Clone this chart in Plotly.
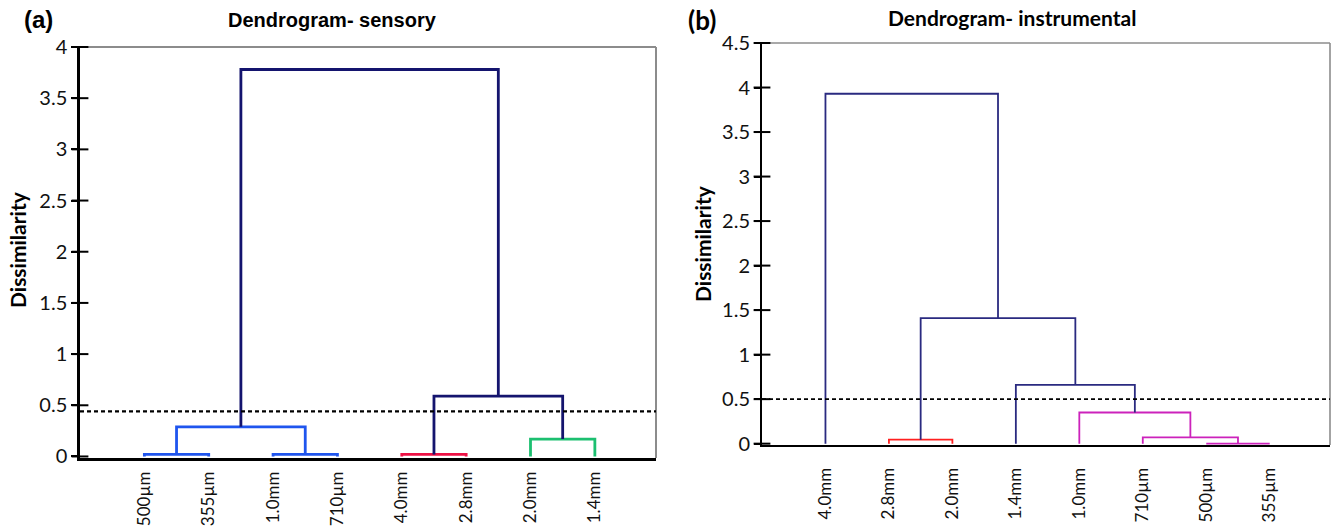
import plotly.graph_objects as go

W, H = 1334, 526

# ---------------- data ----------------
leaves_a = ["500µm", "355µm", "1.0mm", "710µm", "4.0mm", "2.8mm", "2.0mm", "1.4mm"]
merge_left_a = [0, 2, 4, 6, 8, 10, 12]
merge_right_a = [1, 3, 5, 7, 9, 11, 13]
merge_height_a = [0.02, 0.02, 0.02, 0.17, 0.29, 0.59, 3.78]
merge_color_a = ["#1f55ee", "#1f55ee", "#ee1144", "#1cbf70", "#1f55ee", "#14146e", "#14146e"]
cut_a = 0.44
yticks_a = [0, 0.5, 1, 1.5, 2, 2.5, 3, 3.5, 4]

leaves_b = ["4.0mm", "2.8mm", "2.0mm", "1.4mm", "1.0mm", "710µm", "500µm", "355µm"]
merge_left_b = [6, 1, 5, 4, 3, 9, 0]
merge_right_b = [7, 2, 8, 10, 11, 12, 13]
merge_height_b = [0.0, 0.045, 0.07, 0.35, 0.66, 1.41, 3.93]
merge_color_b = ["#cc22bb", "#ff2020", "#cc22bb", "#cc22bb", "#2a2a80", "#2a2a80", "#2a2a80"]
cut_b = 0.5
yticks_b = [0, 0.5, 1, 1.5, 2, 2.5, 3, 3.5, 4, 4.5]

XR = [-1, 7.95]

fig = go.Figure()


def add_dendro(leaves, lefts, rights, heights, colors, xa, ya, lw):
    n = len(leaves)
    pos = {i: float(i) for i in range(n)}
    hgt = {i: 0.0 for i in range(n)}
    for k, (l, r, h, c) in enumerate(zip(lefts, rights, heights, colors)):
        fig.add_trace(go.Scatter(
            x=[pos[l], pos[l], pos[r], pos[r]],
            y=[hgt[l], h, h, hgt[r]],
            mode="lines", line=dict(color=c, width=lw),
            xaxis=xa, yaxis=ya, showlegend=False, hoverinfo="skip"))
        pos[n + k] = (pos[l] + pos[r]) / 2
        hgt[n + k] = h


def add_cut(cut, xa, ya, lw):
    fig.add_trace(go.Scatter(x=XR, y=[cut, cut], mode="lines",
                             line=dict(color="black", width=lw, dash="4px,3px"),
                             xaxis=xa, yaxis=ya, showlegend=False, hoverinfo="skip"))


def add_crossticks(ticks, xa, ya):
    fig.add_trace(go.Scatter(x=[XR[0]] * len(ticks), y=ticks, mode="markers",
                             marker=dict(symbol="line-ew", size=12,
                                         line=dict(color="black", width=2)),
                             cliponaxis=False,
                             xaxis=xa, yaxis=ya, showlegend=False, hoverinfo="skip"))


add_dendro(leaves_a, merge_left_a, merge_right_a, merge_height_a, merge_color_a, "x", "y", 2.8)
add_cut(cut_a, "x", "y", 2.2)
add_crossticks(yticks_a, "x", "y")

add_dendro(leaves_b, merge_left_b, merge_right_b, merge_height_b, merge_color_b, "x2", "y2", 1.8)
add_cut(cut_b, "x2", "y2", 1.6)
add_crossticks(yticks_b, "x2", "y2")

# ---------------- layout ----------------
dom_a_x = [80 / W, 656 / W]
dom_a_y = [1 - 458 / H, 1 - 47 / H]
dom_b_x = [762 / W, 1330 / W]
dom_b_y = [1 - 445 / H, 1 - 43 / H]

ytickfont = dict(family="Lato, Open Sans, sans-serif", size=20, color="#111")
xtickfont = dict(family="Lato, Open Sans, sans-serif", size=17, color="#111")

common_x = dict(tickmode="array", tickangle=-90, ticks="", showgrid=False,
                zeroline=False, showline=True, linecolor="black",
                tickfont=xtickfont, layer="below traces", automargin=False,
                fixedrange=True)
common_y = dict(tickmode="array", ticks="outside", ticklen=6, tickwidth=2,
                tickcolor="black", showgrid=False, zeroline=False, showline=True,
                linecolor="black", tickfont=ytickfont, layer="below traces",
                automargin=False, fixedrange=True)

fig.update_layout(
    width=W, height=H, autosize=False,
    margin=dict(l=0, r=0, t=0, b=0, pad=0, autoexpand=False),
    paper_bgcolor="white", plot_bgcolor="white",
    showlegend=False,
    xaxis=dict(domain=dom_a_x, range=XR, anchor="y",
               tickvals=list(range(len(leaves_a))), ticktext=leaves_a,
               linewidth=2.5, ticklabelstandoff=4, **common_x),
    yaxis=dict(domain=dom_a_y, range=[-0.015, 4], anchor="x",
               tickvals=yticks_a, ticktext=[f"{v:g}" for v in yticks_a],
               linewidth=2.5, **common_y),
    xaxis2=dict(domain=dom_b_x, range=XR, anchor="y2",
                tickvals=list(range(len(leaves_b))), ticktext=leaves_b,
                linewidth=2, ticklabelstandoff=14, **common_x),
    yaxis2=dict(domain=dom_b_y, range=[-0.015, 4.5], anchor="x2",
                tickvals=yticks_b, ticktext=[f"{v:g}" for v in yticks_b],
                linewidth=2, **common_y),
)

# gray top/right borders
for xr, yr, lw in [("x domain", "y domain", 2), ("x2 domain", "y2 domain", 1.6)]:
    fig.add_shape(type="line", xref=xr, yref=yr, x0=0, x1=1, y0=1, y1=1,
                  line=dict(color="#8c8c8c", width=lw), layer="below")
    fig.add_shape(type="line", xref=xr, yref=yr, x0=1, x1=1, y0=0, y1=1,
                  line=dict(color="#8c8c8c", width=lw), layer="below")

ann = [
    dict(text="<b>(a)</b>", x=38 / W, y=1 - 20 / H, font=dict(family="Liberation Sans, Arial", size=24)),
    dict(text="<b>(b)</b>", x=702 / W, y=1 - 20 / H, font=dict(family="Lato, Open Sans", size=26)),
    dict(text="<b>Dendrogram- sensory</b>", x=332 / W, y=1 - 20 / H,
         font=dict(family="Liberation Sans Narrow, Arial Narrow, Liberation Sans", size=20)),
    dict(text="<b>Dendrogram- instrumental</b>", x=1012 / W, y=1 - 18 / H,
         font=dict(family="Lato, Open Sans", size=21)),
    dict(text="<b>Dissimilarity</b>", x=18 / W, y=1 - 250 / H, textangle=-90,
         font=dict(family="Lato, Open Sans", size=21)),
    dict(text="<b>Dissimilarity</b>", x=703 / W, y=1 - 244 / H, textangle=-90,
         font=dict(family="Lato, Open Sans", size=21)),
]
for a in ann:
    fig.add_annotation(xref="paper", yref="paper", showarrow=False,
                       xanchor="center", yanchor="middle",
                       font_color="black", **{k: v for k, v in a.items()})

fig.write_html("out.html", config={"displayModeBar": False},
               post_script="document.body.style.margin='0';document.body.style.overflow='hidden';")
